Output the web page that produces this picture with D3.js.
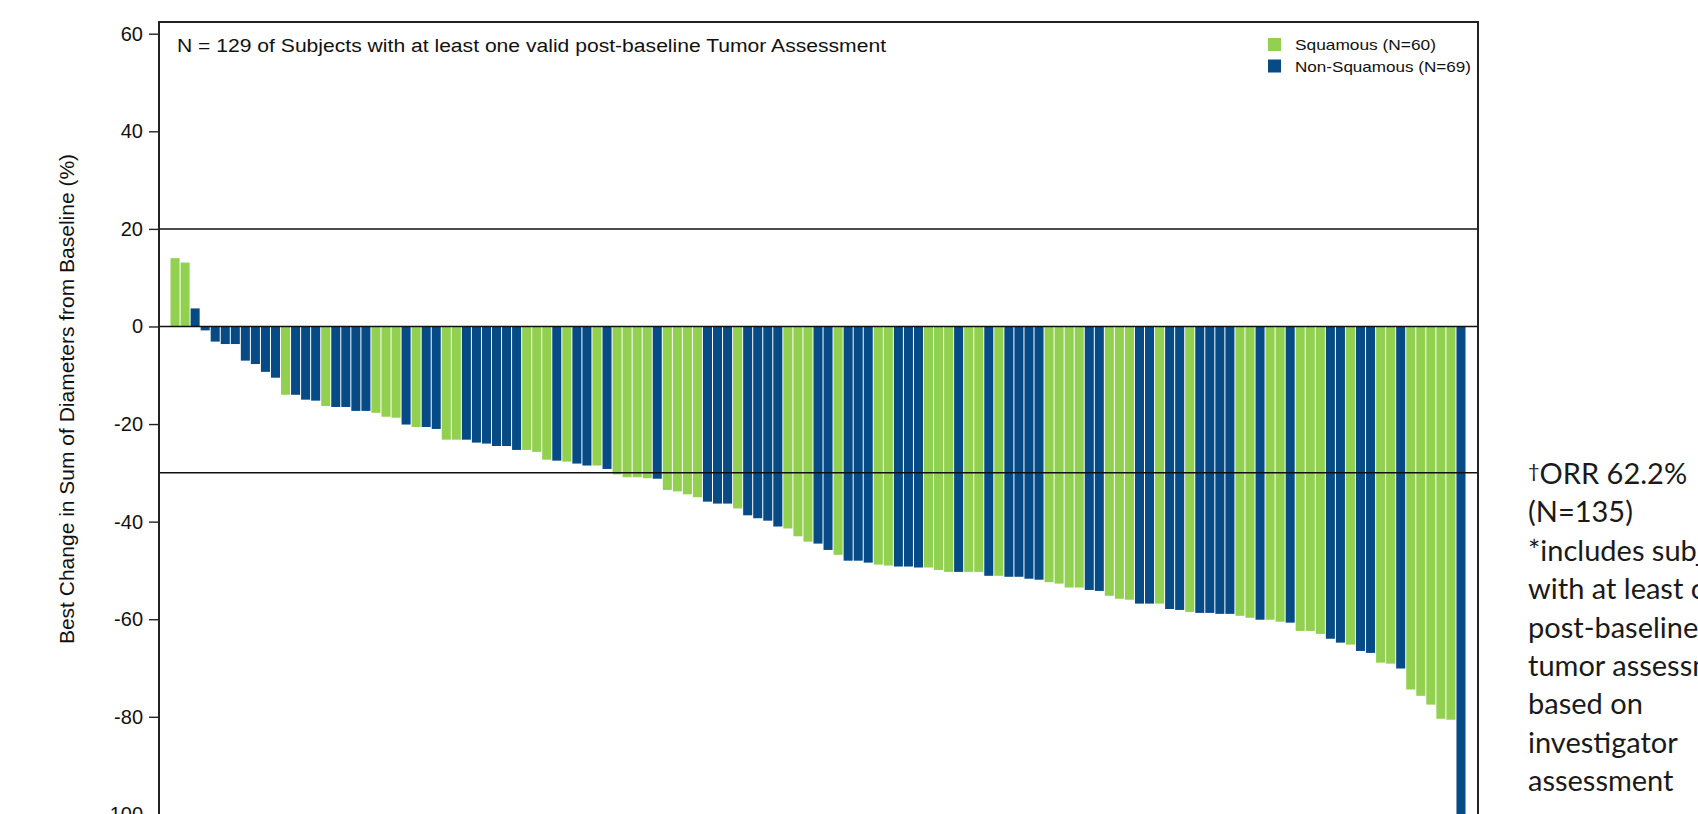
<!DOCTYPE html>
<html>
<head>
<meta charset="utf-8">
<script src="https://cdn.jsdelivr.net/npm/d3@7"></script>
<style>
  html, body { margin: 0; padding: 0; background: #fff; overflow: hidden; }
  svg { display: block; }
</style>
</head>
<body>
<svg id="chart" width="1698" height="814"></svg>
<script>
// best % change in sum of diameters, sorted (one per subject)
var changes = [
  14.0, 13.1, 3.7, -0.8, -3.1, -3.6, -3.6, -7.0, -7.7, -9.3,
  -10.5, -14.0, -14.0, -15.0, -15.2, -16.3, -16.5, -16.5, -17.3, -17.3,
  -17.7, -18.5, -18.7, -20.1, -20.6, -20.6, -21.0, -23.2, -23.2, -23.2,
  -23.8, -24.0, -24.5, -24.5, -25.3, -25.3, -25.7, -27.3, -27.5, -27.7,
  -28.1, -28.5, -28.5, -29.2, -30.3, -30.9, -30.9, -31.1, -31.2, -33.5,
  -33.8, -34.4, -35.0, -35.9, -36.3, -36.3, -37.3, -38.7, -39.3, -39.8,
  -41.0, -41.4, -43.0, -44.1, -44.5, -45.8, -46.8, -48.0, -48.0, -48.4,
  -48.8, -49.0, -49.2, -49.2, -49.4, -49.4, -49.9, -50.3, -50.3, -50.3,
  -50.3, -51.1, -51.1, -51.3, -51.3, -51.7, -51.9, -52.4, -52.7, -53.5,
  -53.5, -54.0, -54.2, -55.2, -55.8, -56.0, -56.8, -56.8, -56.8, -57.9,
  -58.1, -58.5, -58.7, -58.7, -58.9, -58.9, -59.3, -59.7, -60.1, -60.1,
  -60.5, -60.7, -62.4, -62.4, -63.0, -64.0, -64.8, -65.2, -66.5, -66.9,
  -68.9, -69.1, -70.1, -74.4, -75.7, -77.5, -80.4, -80.6, -100
];
// S = squamous, N = non-squamous
var histology = (
  "SSNNNNNNNN" + "NSNNNSNNNN" + "SSSNSNNSSN" + "NNNNNSSSNS" +
  "NNSNSSSSNS" + "SSSNNNSNNN" + "NSSSNNSNNN" + "SSNNNSSSNS" +
  "SNSNNNNSSS" + "SNNSSSNNSN" + "NSNNNNSSNS" + "SNSSSNNSNN" +
  "SSNSSSSSN"
).split("");

var yTicks = [60, 40, 20, 0, -20, -40, -60, -80, -100];
var refLines = [20, 0, -30];
var legendItems = [
  { key: "S", label: "Squamous (N=60)", len: 141 },
  { key: "N", label: "Non-Squamous (N=69)", len: 176 }
];
var noteLines = ["(N=135)", "*includes subjects", "with at least one", "post-baseline",
  "tumor assessment", "based on", "investigator", "assessment"];

var colors = { S: "#92d050", N: "#064a86" };

var data = changes.map(function (v, i) {
  return { idx: i, value: v, type: histology[i] };
});

var frame = { left: 159, right: 1478, top: 22 };
var arial = "'Liberation Sans', Arial, sans-serif";

var svg = d3.select("#chart");

var x = d3.scaleBand()
  .domain(d3.range(data.length))
  .range([170, 1466])
  .paddingInner(0.1)
  .paddingOuter(0.05);

var y = d3.scaleLinear()
  .domain([-100, 62.4])
  .range([814.4, frame.top]);

/*bars*/
svg.append("g").selectAll("rect")
  .data(data)
  .enter().append("rect")
  .attr("x", function (d) { return x(d.idx); })
  .attr("width", x.bandwidth())
  .attr("y", function (d) { return y(Math.max(0, d.value)); })
  .attr("height", function (d) { return Math.abs(y(d.value) - y(0)); })
  .attr("fill", function (d) { return colors[d.type]; });

/*reference lines*/
svg.append("g").selectAll("line")
  .data(refLines)
  .enter().append("line")
  .attr("x1", frame.left).attr("x2", frame.right)
  .attr("y1", function (d) { return y(d); })
  .attr("y2", function (d) { return y(d); })
  .attr("stroke", "#111")
  .attr("stroke-width", 1.5);

/*frame*/
svg.append("rect")
  .attr("x", frame.left).attr("y", frame.top)
  .attr("width", frame.right - frame.left)
  .attr("height", 900)
  .attr("fill", "none")
  .attr("stroke", "#222")
  .attr("stroke-width", 2);

/*y axis*/
var yAxis = d3.axisLeft(y)
  .tickValues(yTicks)
  .tickSize(10)
  .tickPadding(6)
  .tickFormat(function (d) { return String(d); });
var gy = svg.append("g")
  .attr("transform", "translate(" + frame.left + ",0)")
  .call(yAxis);
gy.select(".domain").remove();
gy.selectAll(".tick line").attr("stroke", "#222").attr("stroke-width", 1.4);
gy.selectAll(".tick text")
  .attr("fill", "#111")
  .style("font-family", arial)
  .style("font-size", "20px");

svg.append("text")
  .attr("transform", "translate(74,399) rotate(-90)")
  .attr("text-anchor", "middle")
  .attr("fill", "#111")
  .style("font-family", arial)
  .style("font-size", "21px")
  .text("Best Change in Sum of Diameters from Baseline (%)");

/*subtitle in plot*/
svg.append("text")
  .attr("x", 177).attr("y", 52)
  .attr("fill", "#111")
  .attr("textLength", 709)
  .attr("lengthAdjust", "spacingAndGlyphs")
  .style("font-family", arial)
  .style("font-size", "18px")
  .text("N = 129 of Subjects with at least one valid post-baseline Tumor Assessment");

/*legend*/
var lg = svg.append("g").selectAll("g")
  .data(legendItems)
  .enter().append("g")
  .attr("transform", function (d, i) { return "translate(1268," + (38 + i * 21.5) + ")"; });
lg.append("rect")
  .attr("width", 13).attr("height", 13)
  .attr("fill", function (d) { return colors[d.key]; });
lg.append("text")
  .attr("x", 27).attr("y", 12)
  .attr("fill", "#111")
  .attr("textLength", function (d) { return d.len; })
  .attr("lengthAdjust", "spacingAndGlyphs")
  .style("font-family", arial)
  .style("font-size", "14.5px")
  .text(function (d) { return d.label; });

/*side note*/
var note = svg.append("g")
  .style("font-family", "Lato, 'Open Sans', sans-serif")
  .style("font-size", "29px")
  .attr("fill", "#1a1a1a");
var first = note.append("text").attr("x", 1528).attr("y", 484);
first.append("tspan").style("font-size", "20px").attr("dy", -6).text("\u2020");
first.append("tspan").attr("dy", 6).text("ORR 62.2%");
note.selectAll("text.line")
  .data(noteLines)
  .enter().append("text")
  .attr("class", "line")
  .attr("x", 1528)
  .attr("y", function (d, i) { return 484 + (i + 1) * 38.4; })
  .text(function (d) { return d; });
</script>
</body>
</html>
